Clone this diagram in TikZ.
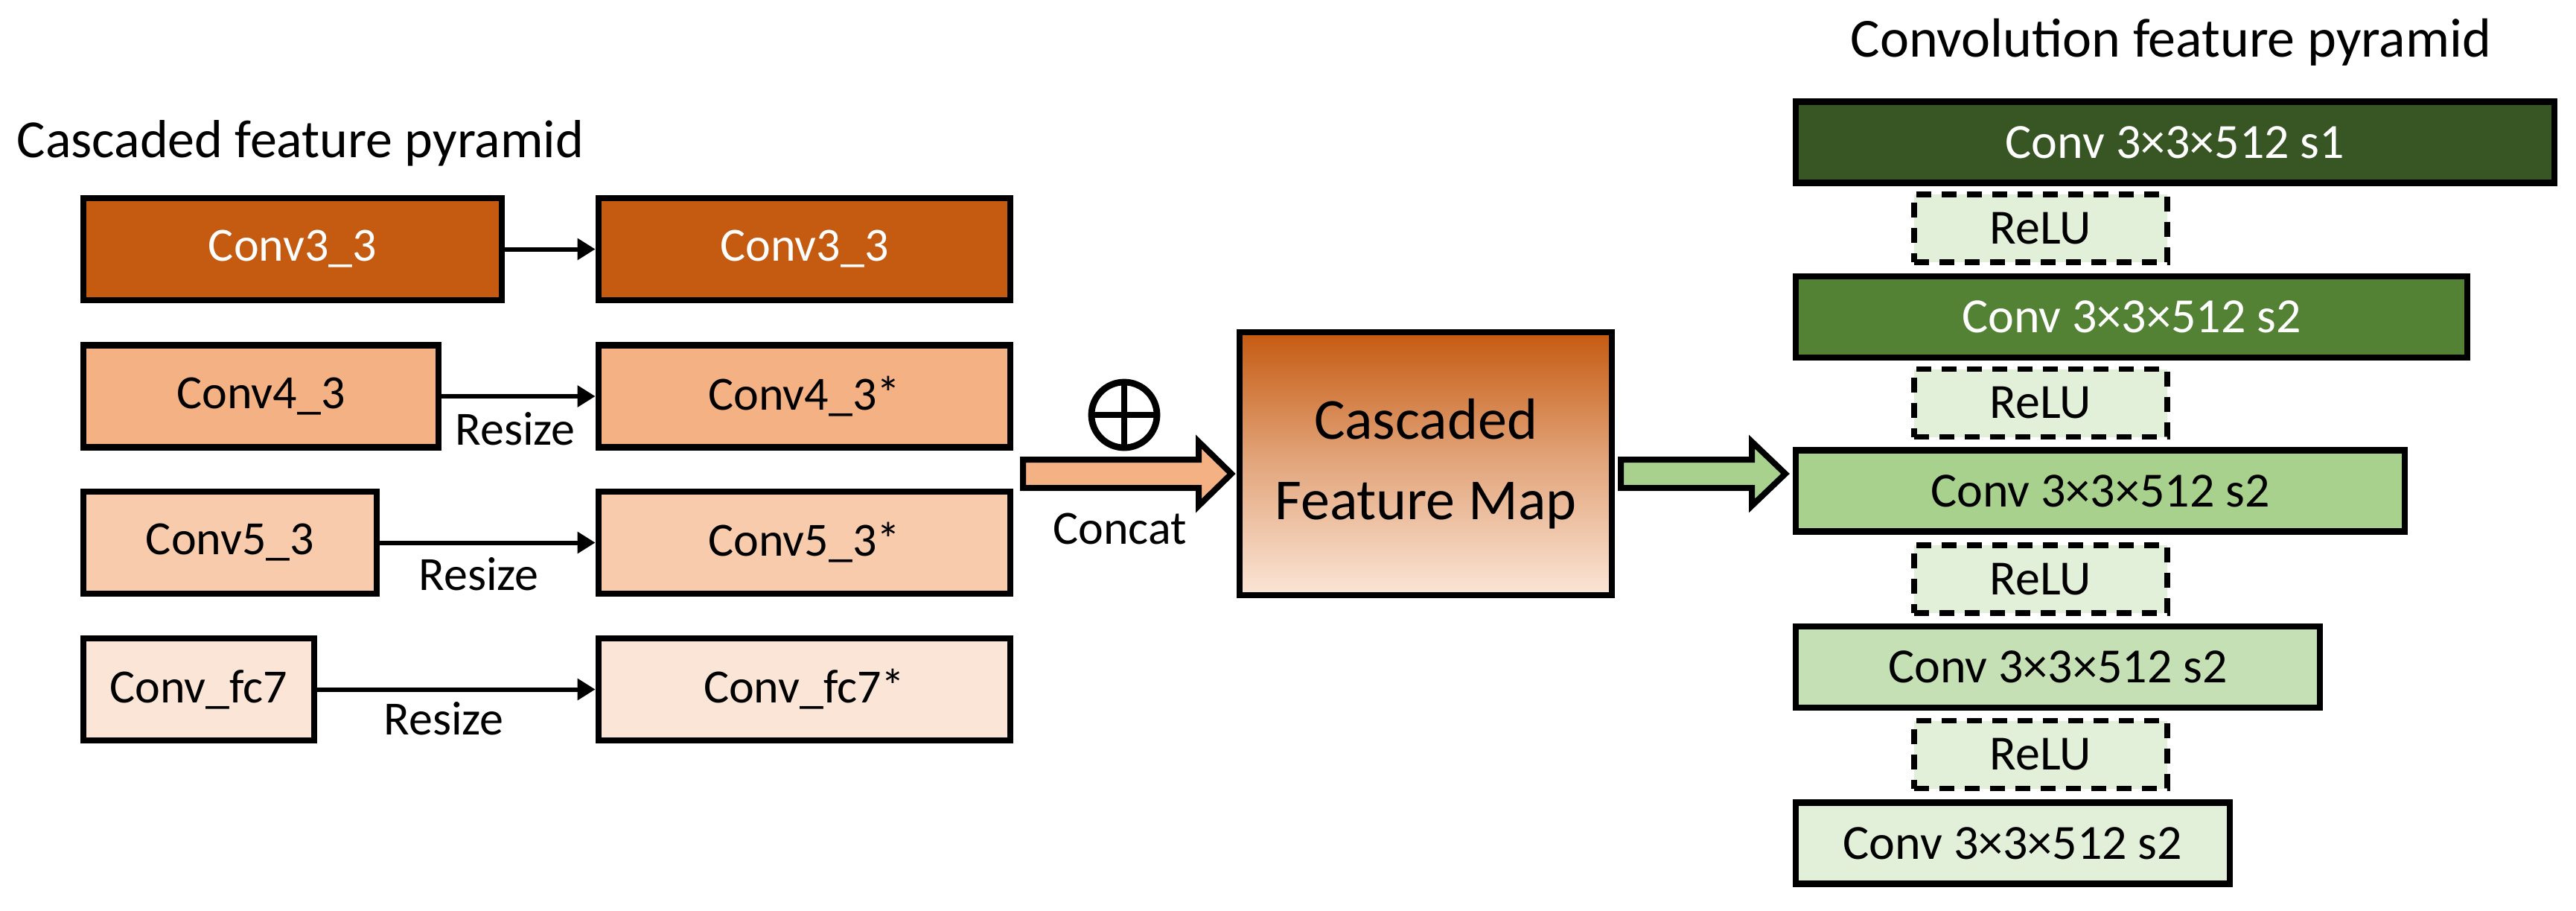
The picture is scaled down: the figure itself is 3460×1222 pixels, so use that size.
\documentclass[tikz,border=0pt]{standalone}
\usepackage{fontspec}
\setmainfont{Carlito}
\usetikzlibrary{arrows.meta}
\definecolor{o1}{HTML}{C55A11}\definecolor{o2}{HTML}{F4B183}\definecolor{o3}{HTML}{F8CBAD}\definecolor{o4}{HTML}{FBE5D6}
\definecolor{g1}{HTML}{375623}\definecolor{g2}{HTML}{548235}\definecolor{g3}{HTML}{A9D18E}\definecolor{g4}{HTML}{C5E0B4}\definecolor{g5}{HTML}{E2F0D9}
\begin{document}
\begin{tikzpicture}[x=0.25pt,y=-0.25pt,
 box/.style={draw,line width=2.2pt,inner sep=0,minimum height=137*0.25pt,font=\fontsize{16}{19}\selectfont},
 w/.style={minimum width=#1*0.25pt},
 relu/.style={draw,dashed,dash pattern=on 5pt off 3.5pt,line width=1.8pt,fill=g5,inner sep=0,minimum width=340*0.25pt,minimum height=91*0.25pt,font=\fontsize{16.5}{19}\selectfont},
 cv/.style={box,minimum height=109*0.25pt,font=\fontsize{16.5}{19}\selectfont},
 lbl/.style={font=\fontsize{16}{19}\selectfont,inner sep=0},
 ar/.style={line width=1.5pt,-{Triangle[length=6pt,width=7pt]}}]
\useasboundingbox (0,0) rectangle (3460,1222);
\node[anchor=base west,inner sep=0,font=\fontsize{18}{21}\selectfont] (t1) at (22,211) {Cascaded feature pyramid};
\node[anchor=base,inner sep=0,font=\fontsize{18.5}{21}\selectfont] (t2) at (2916,76) {Convolution feature pyramid};
% left column
\node[box,w=562,fill=o1,text=white] (l1) at (393,334.5) {Conv3\_3};
\node[box,w=477,fill=o2] (l2) at (350.5,532) {Conv4\_3};
\node[box,w=394,fill=o3] (l3) at (309,728.5) {Conv5\_3};
\node[box,w=310,fill=o4] (l4) at (267,925.5) {Conv\_fc7};
\node[box,w=553,fill=o1,text=white] (r1) at (1080.5,334.5) {Conv3\_3};
\node[box,w=553,fill=o2] (r2) at (1080.5,532) {Conv4\_3*};
\node[box,w=553,fill=o3] (r3) at (1080.5,728.5) {Conv5\_3*};
\node[box,w=553,fill=o4] (r4) at (1080.5,925.5) {Conv\_fc7*};
\draw[ar] (l1) -- (r1);
\draw[ar] (l2) -- (r2);
\draw[ar] (l3) -- (r3);
\draw[ar] (l4) -- (r4);
\node[lbl] (z2) at (692,576) {Resize};
\node[lbl] (z3) at (643,771) {Resize};
\node[lbl] (z4) at (596,965) {Resize};
% concat
\draw[line width=2pt,fill=o2] (1374,617) -- (1610,617) -- (1610,593) -- (1654,636) -- (1610,679) -- (1610,655) -- (1374,655) -- cycle;
\node[lbl] (cc) at (1504,710) {Concat};
\draw[line width=2.2pt] (1510,557) circle [radius=44*0.25pt];
\draw[line width=2pt] (1466,557) -- (1554,557) (1510,513) -- (1510,601);
% cascaded feature map
\node[draw,line width=2.2pt,top color=o1,bottom color=o4,middle color=o1!45!o4,minimum width=500*0.25pt,minimum height=353*0.25pt,align=center,font=\fontsize{19.5}{27}\selectfont] (cfm) at (1915,622.5) {Cascaded\\Feature Map};
\draw[line width=2pt,fill=g3] (2177,617) -- (2353,617) -- (2353,593) -- (2398,636) -- (2353,679) -- (2353,655) -- (2177,655) -- cycle;
% right pyramid
\node[cv,w=1019,fill=g1,text=white] (c1) at (2921.5,191) {Conv 3×3×512 s1};
\node[relu] (u1) at (2741,306.5) {ReLU};
\node[cv,w=902,fill=g2,text=white] (c2) at (2863,425.5) {Conv 3×3×512 s2};
\node[relu] (u2) at (2741,541) {ReLU};
\node[cv,w=818,fill=g3] (c3) at (2821,659) {Conv 3×3×512 s2};
\node[relu] (u3) at (2741,777.5) {ReLU};
\node[cv,w=704,fill=g4] (c4) at (2764,895.5) {Conv 3×3×512 s2};
\node[relu] (u4) at (2741,1013) {ReLU};
\node[cv,w=583,fill=g5] (c5) at (2703.5,1132) {Conv 3×3×512 s2};
\end{tikzpicture}
\end{document}
